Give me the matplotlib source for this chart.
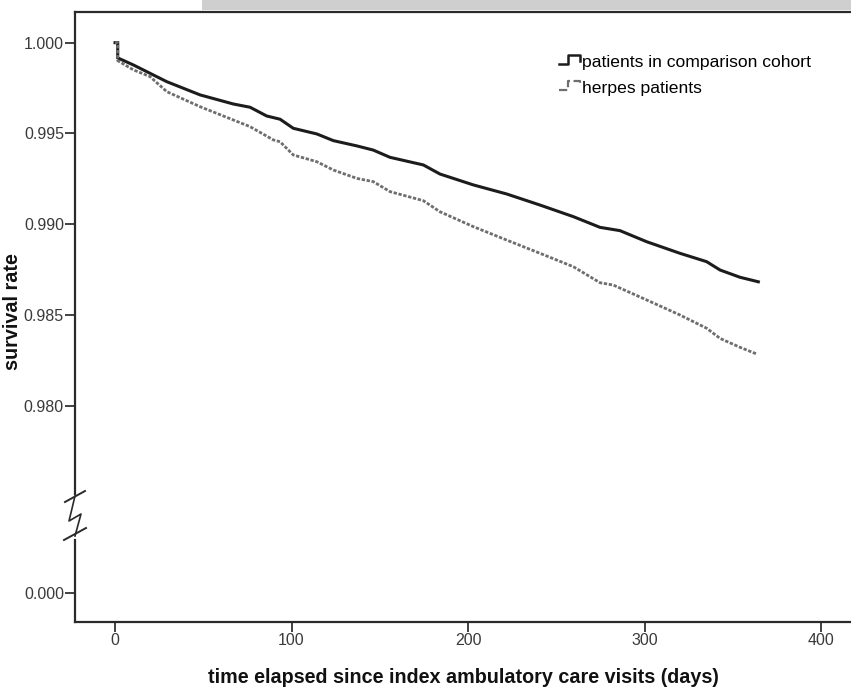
import numpy as np
import matplotlib
matplotlib.use('Agg')
from matplotlib import pyplot as plt
from matplotlib.lines import Line2D
from matplotlib.patches import Rectangle
from matplotlib.legend_handler import HandlerBase

## Survival estimates (days, survival rate)
days_cmp = [0, 1.5, 1.5, 10.4, 29.3, 48.2, 67.0, 76.5, 85.9, 93.5, 101.0, 114.3, 123.7,
            137.0, 146.3, 155.8, 174.7, 184.1, 203.0, 221.9, 240.8, 259.7, 274.8,
            286.1, 301.2, 320.1, 335.2, 342.8, 354.1, 364.5]
surv_cmp = [1.0000, 1.0000, 0.99916, 0.99877, 0.99785, 0.99712, 0.99662, 0.99644, 0.99596,
            0.99578, 0.99528, 0.99497, 0.99460, 0.99431, 0.99408, 0.99368, 0.99326,
            0.99276, 0.99216, 0.99166, 0.99105, 0.99041, 0.98982, 0.98964, 0.98903,
            0.98839, 0.98793, 0.98747, 0.98707, 0.98682]

days_hrp = [0, 1.5, 1.5, 10.4, 19.8, 29.3, 48.2, 67.0, 76.5, 89.7, 93.5, 101.0, 114.3,
            123.7, 137.0, 146.3, 155.8, 174.7, 184.1, 203.0, 221.9, 240.8, 259.7,
            274.8, 282.3, 301.2, 320.1, 335.2, 342.8, 354.1, 363.6]
surv_hrp = [1.0000, 1.0000, 0.99901, 0.99850, 0.99813, 0.99730, 0.99647, 0.99574, 0.99537,
            0.99464, 0.99454, 0.99381, 0.99344, 0.99298, 0.99252, 0.99234, 0.99179,
            0.99129, 0.99068, 0.98986, 0.98912, 0.98839, 0.98765, 0.98677, 0.98664,
            0.98582, 0.98499, 0.98426, 0.98370, 0.98321, 0.98284]

labels = ['patients in comparison cohort', 'herpes patients']
xticks = [0, 100, 200, 300, 400]
yticks = [0.980, 0.985, 0.990, 0.995, 1.000]
zero_pos = 0.96965  # where the broken axis puts 0.000

W, H = 851, 688
plt.rcParams['font.family'] = ['Liberation Sans', 'DejaVu Sans']

fig = plt.figure(figsize=(W / 100, H / 100), dpi=100)
ax = fig.add_axes([75 / W, 66 / H, 1 - 75 / W, 610 / H])

c_black = '#1c1c1c'
c_grey = '#6e6e6e'
ax.plot(days_cmp, surv_cmp, color=c_black, lw=2.2, solid_joinstyle='miter')
ax.plot(days_hrp, surv_hrp, color=c_grey, lw=2.0, linestyle=(0, (1.2, 0.6)))

ax.set_xlim(-22.7, 417.0)
ax.set_ylim(0.96807, 1.00169)

ax.set_xticks(xticks)
ax.set_xticklabels([str(t) for t in xticks])
ax.set_yticks([zero_pos] + yticks)
ax.set_yticklabels(['0.000'] + ['%.3f' % t for t in yticks])
ax.tick_params(axis='both', direction='out', length=7, width=1.3, color='#333333',
               labelsize=11.5, labelcolor='#3a3a3a', pad=1)

ax.spines['right'].set_visible(False)
ax.spines['left'].set_visible(False)
for s in ['top', 'bottom']:
    ax.spines[s].set_color('#2a2a2a')
    ax.spines[s].set_linewidth(1.6)

## Broken left axis, drawn in pixel coordinates of the figure
def px(x, y):
    return x / W, 1 - y / H

def seg(pts, lw=1.6):
    xs, ys = zip(*[px(x, y) for x, y in pts])
    fig.add_artist(Line2D(xs, ys, color='#2a2a2a', lw=lw, transform=fig.transFigure))

seg([(75, 12), (75, 494)])
seg([(75, 540), (75, 622)])
seg([(65, 502), (85, 491)], lw=1.4)
seg([(64, 540), (86, 528)], lw=1.4)
seg([(75, 496), (69, 521), (81, 514), (75, 536)], lw=1.2)

## Grey band at the very top (cropped scan)
fig.add_artist(Rectangle((202 / W, 1 - 10 / H), 1, 10 / H, transform=fig.transFigure,
                         facecolor='#cfcfcf', edgecolor='none'))

## Legend with step-shaped keys
class StepHandler(HandlerBase):
    def create_artists(self, legend, orig, xd, yd, w, h, fontsize, trans):
        xs = [xd, xd + 0.45 * w, xd + 0.45 * w, xd + w, xd + w]
        ys = [yd + 0.25 * h, yd + 0.25 * h, yd + 1.0 * h, yd + 1.0 * h, yd + 0.55 * h]
        ln = Line2D(xs, ys, color=orig.get_color(), lw=orig.get_linewidth(),
                    linestyle=orig.get_linestyle(), transform=trans)
        return [ln]

h1 = Line2D([], [], color=c_black, lw=1.8)
h2 = Line2D([], [], color=c_grey, lw=1.6, linestyle=(0, (1.2, 0.6)))
ax.legend([h1, h2], labels, handler_map={Line2D: StepHandler()},
          loc='upper left', bbox_to_anchor=(559 / W, 1 - 55 / H),
          bbox_transform=fig.transFigure, frameon=False, fontsize=12.6,
          handlelength=1.2, handletextpad=0.1, labelspacing=0.6, borderaxespad=0,
          borderpad=0)

ax.set_xlabel('time elapsed since index ambulatory care visits (days)',
              fontsize=14.2, fontweight='bold', color='#111111', labelpad=14)
fig.text(13 / W, 1 - 312 / H, 'survival rate', rotation=90, ha='center', va='center',
         fontsize=14.2, fontweight='bold', color='#111111')

fig.savefig('out.png', dpi=100)
